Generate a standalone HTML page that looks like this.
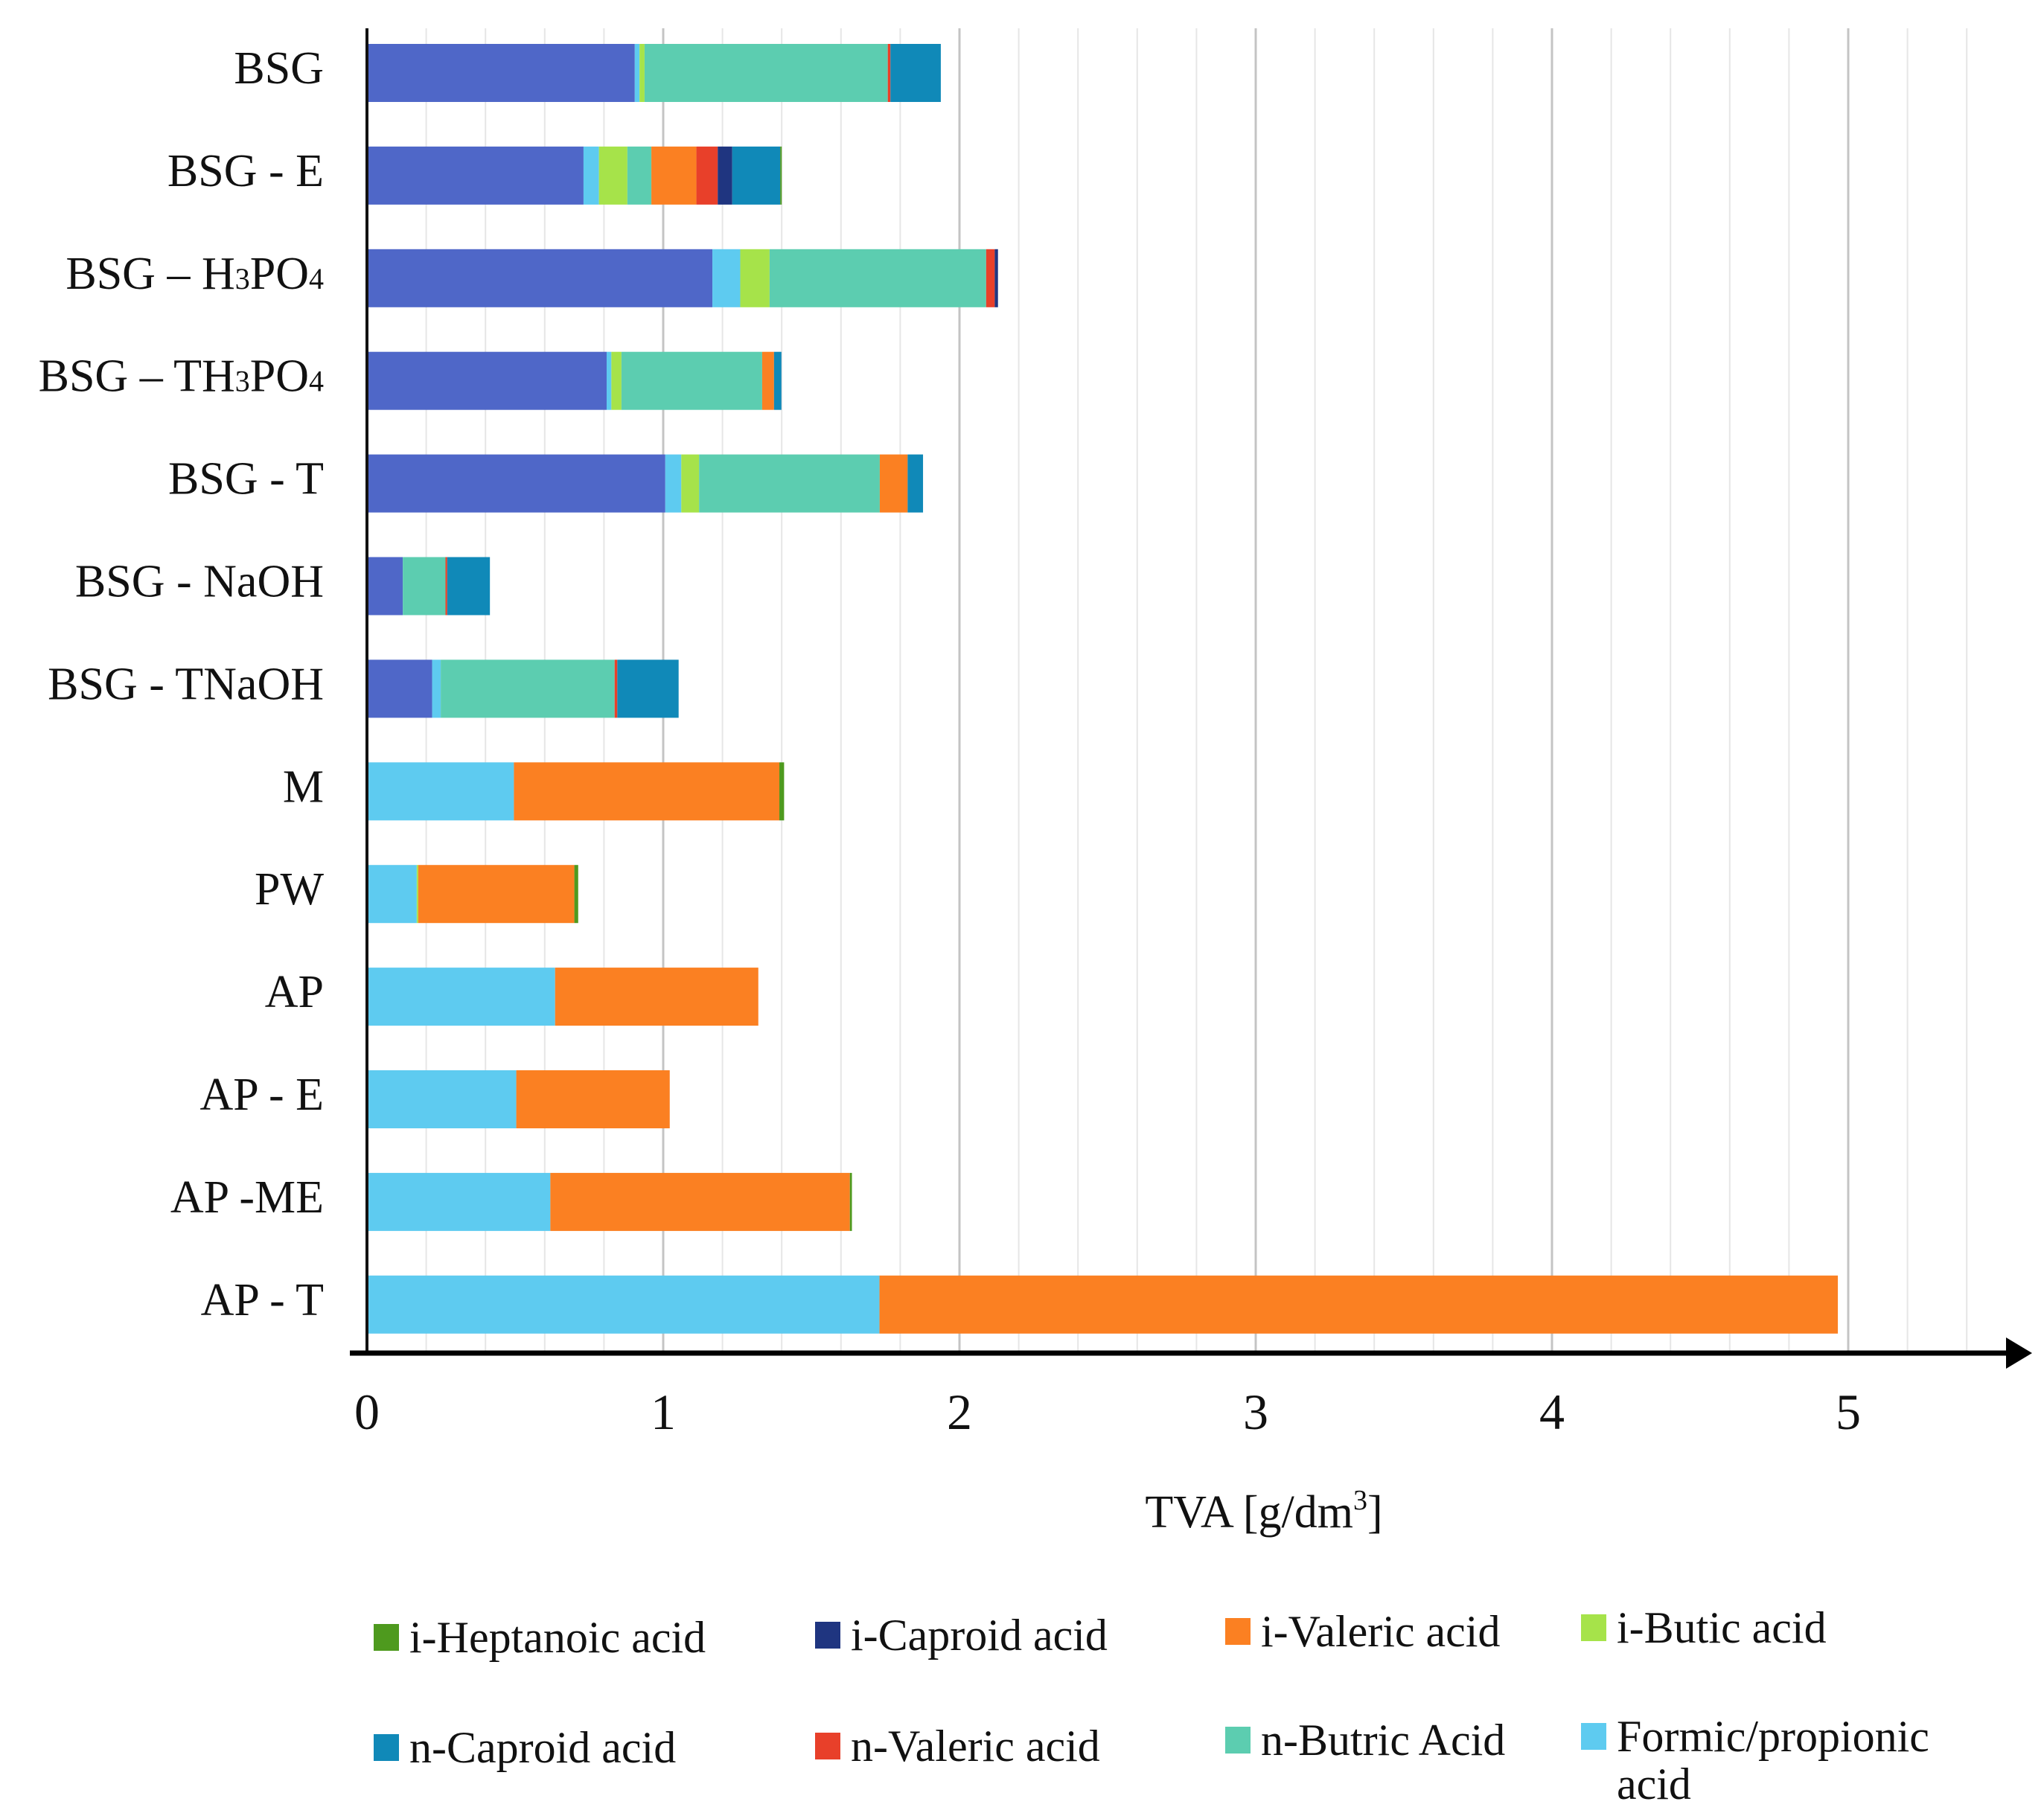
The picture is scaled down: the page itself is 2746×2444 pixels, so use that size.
<!DOCTYPE html>
<html><head><meta charset="utf-8"><style>
html,body{margin:0;padding:0;background:#fff;}
svg{display:block;font-family:"Liberation Serif",serif;}
</style></head>
<body>
<svg id="chart" width="2746" height="2444" viewBox="0 0 2746 2444">
<g id="grid"></g>
<g id="bars"></g>
<g id="cats" font-size="62" fill="#111" text-anchor="end"></g>
<g id="ticks" font-size="68" fill="#111" text-anchor="middle"></g>
<line x1="493" y1="38" x2="493" y2="1820" stroke="#111" stroke-width="4"/>
<line x1="470" y1="1818" x2="2700" y2="1818" stroke="#000" stroke-width="7"/>
<polygon points="2695,1797 2730,1818 2695,1839" fill="#000"/>
<text x="1698" y="2052" font-size="62" text-anchor="middle" fill="#111">TVA [g/dm<tspan font-size="38" dy="-24">3</tspan><tspan dy="24">]</tspan></text>
<g id="legend" font-size="60" fill="#111"></g>
</svg>
<script>
const categories = ["BSG","BSG - E","BSG – H3PO4","BSG – TH3PO4","BSG - T","BSG - NaOH","BSG - TNaOH","M","PW","AP","AP - E","AP -ME","AP - T"];
const seriesNames = ["acetic","Formic/propionic acid","i-Butic acid","n-Butric Acid","i-Valeric acid","n-Valeric acid","i-Caproid acid","n-Caproid acid","i-Heptanoic acid"];
const acetic     = [0.904,0.731,1.166,0.809,1.007,0.121,0.220,0,0,0,0,0,0];
const formic     = [0.016,0.052,0.094,0.016,0.054,0,0.029,0.496,0.168,0.635,0.504,0.619,1.730];
const iButic     = [0.017,0.096,0.099,0.034,0.060,0,0,0,0.005,0,0,0,0];
const nButric    = [0.821,0.081,0.731,0.475,0.610,0.144,0.587,0,0,0,0,0,0];
const iValeric   = [0,0.152,0,0.040,0.094,0,0,0.896,0.527,0.686,0.518,1.011,3.235];
const nValeric   = [0.009,0.072,0.029,0,0,0.006,0.009,0,0,0,0,0,0];
const iCaproid   = [0,0.049,0.011,0,0,0,0,0,0,0,0,0,0];
const nCaproid   = [0.170,0.162,0,0.025,0.052,0.144,0.207,0,0,0,0,0,0];
const iHeptanoic = [0,0.005,0,0,0,0,0,0.016,0.013,0,0,0.007,0];
const seriesValues = [acetic,formic,iButic,nButric,iValeric,nValeric,iCaproid,nCaproid,iHeptanoic];
const seriesColors = ["#4f67c8","#5ecbf0","#a6e34a","#5ccdb0","#fb8022","#e8402a","#1f3580","#1089b8","#4e9a1e"];
const tickValues = [0,1,2,3,4,5];
const tickLabels = ["0","1","2","3","4","5"];
const legendOrder = [8,6,4,2,7,5,3,1];

const NS="http://www.w3.org/2000/svg";
const X0=493, UNIT=398, Y0=98, STEP=137.9, BH=78;
function xs(v){return X0+v*UNIT;}
function yc(i){return Y0+i*STEP;}
function mk(tag,attrs,parent){const e=document.createElementNS(NS,tag);for(const k in attrs)e.setAttribute(k,attrs[k]);parent.appendChild(e);return e;}

const grid=document.getElementById('grid');
for(let k=1;k<=27;k++){
  const v=k*0.2; const major=(k%5===0);
  const l=mk('line',{x1:xs(v),x2:xs(v),y1:38,y2:1816,stroke:major?'#c4c4c4':'#e6e6e6','stroke-width':major?3:2},grid);
  
  
}

const bars=document.getElementById('bars');
categories.forEach((c,i)=>{
  let acc=0;
  seriesValues.forEach((arr,s)=>{
    const v=arr[i]; if(v<=0) return;
    const r=mk('rect',{x:xs(acc),y:yc(i)-BH/2,width:v*UNIT,height:BH,fill:seriesColors[s]},bars);
    
    
    acc+=v;
  });
});

const cats=document.getElementById('cats');
categories.forEach((c,i)=>{
  const t=mk('text',{x:435,y:yc(i)+14},cats);
  
  
  const m=c.match(/^(.*?)(H)(3)(PO)(4)$/);
  if(m){
    t.appendChild(document.createTextNode(m[1]+'H'));
    const a=mk('tspan',{'font-size':'40'},t); a.textContent='3';
    const b=mk('tspan',{},t); b.textContent='PO';
    const d=mk('tspan',{'font-size':'40'},t); d.textContent='4';
  } else t.textContent=c;
});

const ticks=document.getElementById('ticks');
tickValues.forEach((v,i)=>{
  const t=mk('text',{x:xs(v),y:1920},ticks);
  
  
  t.textContent=tickLabels[i];
});

const legend=document.getElementById('legend');
const colX=[502,1095,1646,2124];
const rowY=[[2200,2197,2192,2187],[2348,2346,2338,2333]];
legendOrder.forEach((s,k)=>{
  const col=k%4,row=Math.floor(k/4);
  const g=mk('g',{},legend);
  
  
  const y=rowY[row][col];
  mk('rect',{x:colX[col],y:y-18,width:34,height:36,fill:seriesColors[s]},g);
  const t=mk('text',{x:colX[col]+48,y:y+20},g);
  if(s===1){ t.textContent='Formic/propionic'; const t2=mk('text',{x:colX[col]+48,y:y+84},g); t2.textContent='acid'; }
  else t.textContent=seriesNames[s];
});
</script>
</body></html>
